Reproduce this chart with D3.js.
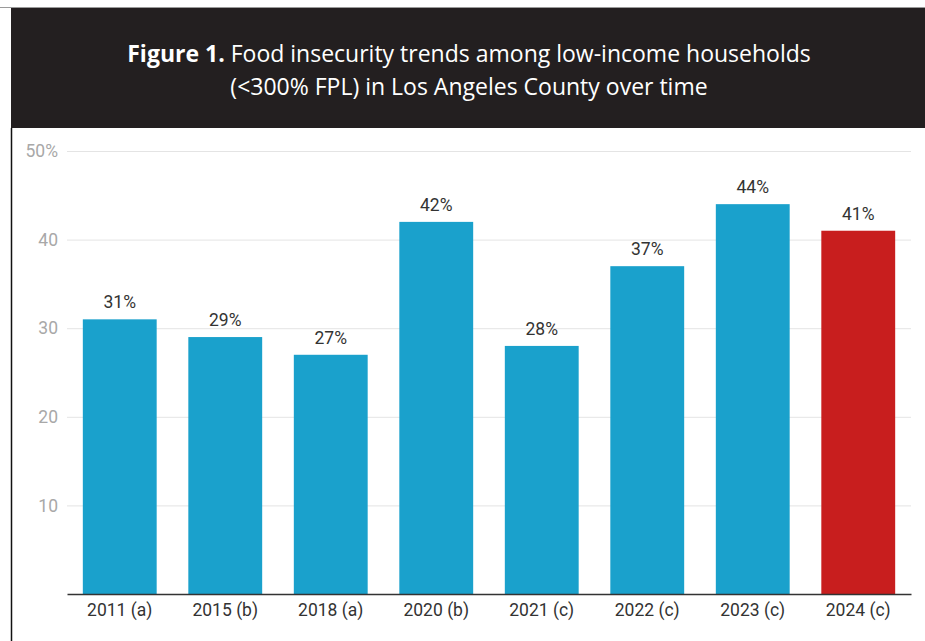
<!DOCTYPE html>
<html>
<head>
<meta charset="utf-8">
<script src="https://cdn.jsdelivr.net/npm/d3@7"></script>
<style>
  body { margin: 0; background: #fff; }
  svg { display: block; }
</style>
</head>
<body>
<div id="chart"></div>
<script>
// chart data
var years = ["2011 (a)", "2015 (b)", "2018 (a)", "2020 (b)", "2021 (c)", "2022 (c)", "2023 (c)", "2024 (c)"];
var values = [31, 29, 27, 42, 28, 37, 44, 41];
var highlight = ["2024 (c)"];
var yTicks = [10, 20, 30, 40, 50];

var width = 925, height = 641;

var svg = d3.select("#chart").append("svg")
    .attr("width", width)
    .attr("height", height);

// top rule + dark header
svg.append("line")
    .attr("x1", 0).attr("x2", width)
    .attr("y1", 7.5).attr("y2", 7.5)
    .attr("stroke", "#9a9a9a");

svg.append("rect")
    .attr("x", 11).attr("y", 8)
    .attr("width", width - 11).attr("height", 120)
    .attr("fill", "#231f20");

svg.append("line")
    .attr("x1", 11.5).attr("x2", 11.5)
    .attr("y1", 128).attr("y2", height)
    .attr("stroke", "#111").attr("stroke-width", 1.5);

var title = svg.append("text")
    .attr("x", 469)
    .attr("y", 62)
    .attr("text-anchor", "middle")
    .attr("fill", "#fff")
    .style("font-family", "'Open Sans', sans-serif")
    .style("font-size", "23px");
title.append("tspan").attr("font-weight", "bold").text("Figure 1.");
title.append("tspan").text(" Food insecurity trends among low-income households");

svg.append("text")
    .attr("x", 469)
    .attr("y", 95)
    .attr("text-anchor", "middle")
    .attr("fill", "#fff")
    .style("font-family", "'Open Sans', sans-serif")
    .style("font-size", "23px")
    .text("(<300% FPL) in Los Angeles County over time");

// plot
var margin = {left: 67, right: 14, top: 151, bottom: 47};
var x = d3.scaleBand()
    .domain(years)
    .range([margin.left, width - margin.right])
    .paddingInner(0.3)
    .paddingOuter(0.15);

var y = d3.scaleLinear()
    .domain([0, 50])
    .range([height - margin.bottom, margin.top]);

var grid = svg.append("g")
    .attr("class", "grid")
    .attr("transform", "translate(" + margin.left + ",0)")
    .call(d3.axisLeft(y)
        .tickValues(yTicks)
        .tickSize(-(width - margin.left - margin.right))
        .tickPadding(9)
        .tickFormat(function(d) { return d == 50 ? d + "%" : d; }));
grid.select(".domain").remove();
grid.selectAll(".tick line").attr("stroke", "#e4e4e4");
grid.selectAll(".tick text")
    .attr("fill", "#a8a8a8")
    .style("font-family", "Roboto, sans-serif")
    .style("font-size", "17.5px");

svg.append("g")
    .selectAll("rect")
    .data(values)
    .enter().append("rect")
        .attr("x", function(d, i) { return x(years[i]); })
        .attr("y", function(d) { return y(d); })
        .attr("width", x.bandwidth())
        .attr("height", function(d) { return y(0) - y(d); })
        .attr("fill", function(d, i) { return highlight.includes(years[i]) ? "#c81e1e" : "#1aa1cc"; });

svg.append("g")
    .selectAll("text")
    .data(values)
    .enter().append("text")
        .attr("x", function(d, i) { return x(years[i]) + x.bandwidth() / 2; })
        .attr("y", function(d) { return y(d) - 11; })
        .attr("text-anchor", "middle")
        .attr("fill", "#333")
        .style("font-family", "Roboto, sans-serif")
        .style("font-size", "17.5px")
        .text(function(d) { return d + "%"; });

var xAxis = svg.append("g")
    .attr("transform", "translate(0," + y(0) + ")")
    .call(d3.axisBottom(x).tickSize(0).tickPadding(10));
xAxis.select(".domain").attr("stroke", "#333").attr("stroke-width", 1.5);
xAxis.selectAll(".tick text")
    .attr("fill", "#333")
    .style("font-family", "Roboto, sans-serif")
    .style("font-size", "17.5px");
</script>
</body>
</html>
